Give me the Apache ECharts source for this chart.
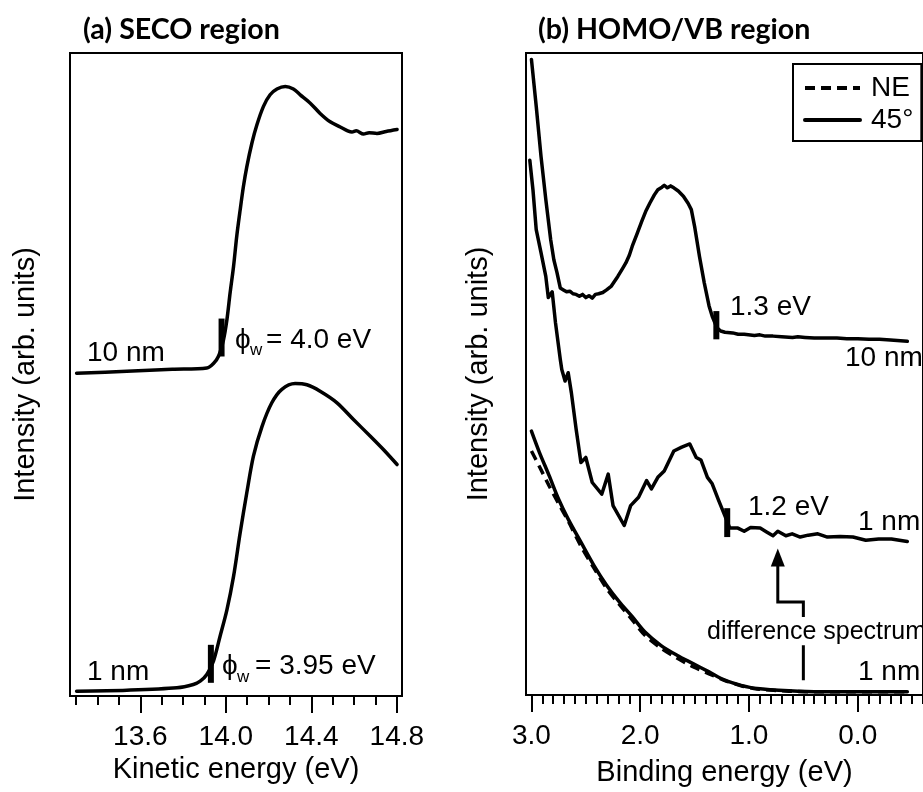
<!DOCTYPE html>
<html>
<head>
<meta charset="utf-8">
<script src="https://cdn.jsdelivr.net/npm/echarts@6/dist/echarts.min.js"></script>
<style>
  html, body { margin: 0; padding: 0; background: #fff; }
  #chart { width: 923px; height: 792px; }
</style>
</head>
<body>
<div id="chart"></div>
<script>
// ---- (a) SECO region: kinetic energy (eV) vs intensity (arb. units) ----
const seco10nm = [
  [13.302, 50.2], [13.537, 50.5], [13.75, 50.8], [13.911, 51.0], [13.942, 51.7],
  [13.965, 52.8], [13.989, 55.4], [14.005, 58.5], [14.020, 62.7], [14.036, 66.8],
  [14.051, 71.5], [14.067, 75.6], [14.082, 79.2], [14.098, 82.3], [14.122, 86.0],
  [14.145, 88.8], [14.176, 91.7], [14.207, 93.5], [14.239, 94.4], [14.278, 94.8],
  [14.316, 94.4], [14.348, 93.5], [14.395, 92.2], [14.441, 90.6], [14.488, 89.3],
  [14.535, 88.5], [14.57, 87.9], [14.59, 87.7], [14.61, 87.9], [14.644, 87.4],
  [14.67, 87.6], [14.707, 87.5], [14.75, 87.8], [14.801, 88.1]
];
const seco1nm = [
  [13.302, 0.75], [13.537, 0.9], [13.771, 1.27], [13.848, 1.79], [13.880, 2.3],
  [13.911, 3.34], [13.942, 5.41], [13.973, 9.29], [14.005, 13.4], [14.036, 18.6],
  [14.067, 25.4], [14.098, 31.6], [14.129, 37.3], [14.169, 41.9], [14.215, 45.6],
  [14.262, 47.7], [14.324, 48.6], [14.379, 48.4], [14.441, 47.4], [14.520, 45.6],
  [14.597, 43.0], [14.676, 40.4], [14.738, 38.3], [14.801, 36.0]
];
// work functions and the intensity span of each cutoff marker
const workFunctions = [4.0, 3.95];          // 10 nm, 1 nm
const cutoffSpans = [[52.8, 58.7], [2.05, 7.96]];
const keOffset = 9.98;                       // kinetic energy of cutoff = phi_w + offset
const keMajorTicks = [13.6, 14.0, 14.4, 14.8];

// ---- (b) HOMO/VB region: binding energy (eV) vs intensity (arb. units) ----
const vb10nm = [
  [3.000, 99.0], [2.956, 91.7], [2.912, 83.9], [2.868, 77.2], [2.823, 70.9], [2.794, 67.8],
  [2.765, 65.8], [2.735, 63.4], [2.706, 63.1], [2.677, 62.8], [2.647, 62.9], [2.618, 62.5],
  [2.589, 62.4], [2.559, 62.1], [2.530, 62.4], [2.500, 61.9], [2.471, 62.2], [2.441, 61.8],
  [2.412, 62.4], [2.382, 62.5], [2.344, 62.7], [2.309, 63.1], [2.265, 63.7], [2.206, 65.2],
  [2.160, 66.5], [2.132, 67.3], [2.100, 68.5], [2.073, 69.9], [2.030, 71.8], [1.985, 73.8],
  [1.950, 75.3], [1.912, 76.6], [1.870, 77.9], [1.838, 78.7], [1.800, 79.1], [1.779, 79.4],
  [1.750, 79.0], [1.720, 79.3], [1.691, 79.0], [1.650, 78.5], [1.603, 77.7], [1.560, 76.6],
  [1.530, 75.6], [1.500, 73.0], [1.455, 68.3], [1.411, 64.2], [1.367, 60.6], [1.338, 59.0],
  [1.294, 57.2], [1.260, 56.7], [1.221, 56.5], [1.15, 56.4], [1.10, 56.2], [1.044, 56.2],
  [0.95, 56.0], [0.90, 56.1], [0.85, 55.9], [0.779, 55.9], [0.70, 55.8], [0.60, 55.7],
  [0.55, 55.8], [0.485, 55.7], [0.40, 55.6], [0.30, 55.6], [0.191, 55.6], [0.10, 55.5],
  [0.0, 55.5], [-0.103, 55.4], [-0.20, 55.4], [-0.30, 55.3], [-0.456, 55.1]
];
const vb1nm = [
  [3.015, 83.3], [2.986, 78.7], [2.956, 72.5], [2.912, 68.9], [2.868, 65.2], [2.845, 61.9],
  [2.809, 62.8], [2.779, 58.0], [2.735, 52.3], [2.721, 50.7], [2.691, 48.9], [2.662, 50.2],
  [2.633, 47.1], [2.589, 41.4], [2.545, 36.2], [2.500, 37.0], [2.441, 33.1], [2.353, 31.3],
  [2.294, 34.4], [2.250, 29.5], [2.147, 26.4], [2.088, 29.5], [2.015, 30.8], [1.941, 33.4],
  [1.897, 32.1], [1.838, 33.9], [1.779, 34.9], [1.691, 38.0], [1.618, 38.6], [1.544, 39.1],
  [1.485, 37.0], [1.441, 36.6], [1.382, 33.9], [1.338, 32.9], [1.279, 30.3], [1.221, 27.9],
  [1.176, 26.0], [1.102, 26.0], [1.044, 25.5], [0.985, 26.1], [0.897, 26.0], [0.838, 25.4],
  [0.779, 24.8], [0.735, 25.5], [0.661, 24.8], [0.603, 25.1], [0.529, 24.6], [0.455, 24.9],
  [0.367, 25.1], [0.279, 24.6], [0.162, 24.7], [0.044, 24.6], [-0.074, 24.1], [-0.192, 24.3],
  [-0.310, 24.3], [-0.456, 23.9]
];
const diff45 = [
  [3.000, 41.1], [2.927, 37.8], [2.838, 34.2], [2.750, 30.5], [2.662, 27.4], [2.545, 23.8],
  [2.426, 20.2], [2.309, 17.1], [2.192, 14.5], [2.073, 12.2], [1.956, 9.8], [1.808, 7.7],
  [1.662, 6.2], [1.515, 4.9], [1.367, 3.6], [1.221, 2.3], [1.073, 1.5], [0.926, 1.0],
  [0.632, 0.65], [0.338, 0.5], [0.044, 0.5], [-0.456, 0.5]
];
const diffNE = [
  [3.000, 38.0], [2.927, 35.6], [2.838, 32.6], [2.750, 29.8], [2.662, 27.1], [2.545, 23.2],
  [2.426, 19.8], [2.309, 16.6], [2.192, 14.1], [2.073, 11.7], [1.956, 9.3], [1.808, 7.3],
  [1.662, 5.75], [1.515, 4.4], [1.367, 3.3], [1.221, 2.25], [1.073, 1.45], [0.926, 0.95],
  [0.632, 0.6], [0.338, 0.5], [0.044, 0.5], [-0.456, 0.5]
];
// valence band onsets and the intensity span of each onset marker
const vbOnsets = [1.3, 1.2];                 // 10 nm, 1 nm
const onsetSpans = [[55.4, 59.8], [24.6, 29.1]];
const beMajorTicks = [3.0, 2.0, 1.0, 0.0];
// pointer from the "difference spectrum" label to the 1 nm spectrum
const pointerPath = [[0.5, 12.15], [0.5, 14.5], [0.735, 14.5], [0.735, 20.5]];
const pointerTip = [[0.735, 21.4]];
const pointerTail = [[0.5, 7.74], [0.5, 2.3]];

const FONT = "'Liberation Sans', Arial, 'DejaVu Sans', sans-serif";
const INK = '#000';

function minorTicks(from, to) {
  const out = [];
  for (let k = Math.round(from * 10); k <= Math.round(to * 10); k++) out.push(k / 10);
  return out;
}

function curve(name, data, xi, yi, extra) {
  return Object.assign({
    name, type: 'line', data, xAxisIndex: xi, yAxisIndex: yi,
    symbol: 'none', silent: true,
    itemStyle: { color: INK },
    lineStyle: { color: INK, width: 3.5, join: 'round', cap: 'round' }
  }, extra || {});
}
function marker(name, x, span, xi, yi) {
  return {
    name, type: 'line', xAxisIndex: xi, yAxisIndex: yi, symbol: 'none', silent: true,
    data: [[x, span[0]], [x, span[1]]],
    itemStyle: { color: INK },
    lineStyle: { color: INK, width: 6, cap: 'butt' }
  };
}
function majorAxis(grid, min, max, ticks, inverse, name, nameGap) {
  return {
    gridIndex: grid, type: 'value', min, max, inverse, position: 'bottom',
    axisLine: { show: true, onZero: false, lineStyle: { color: INK, width: 2 } },
    axisTick: { show: true, customValues: ticks, length: 17, lineStyle: { color: INK, width: 2 } },
    axisLabel: { show: true, customValues: ticks, formatter: v => v.toFixed(1),
      fontSize: 28, fontFamily: FONT, color: INK, margin: 27 },
    splitLine: { show: false },
    name, nameLocation: 'middle', nameGap,
    nameTextStyle: { fontSize: 29, fontFamily: FONT, color: INK }
  };
}
function minorAxis(grid, min, max, ticks, inverse) {
  return {
    gridIndex: grid, type: 'value', min, max, inverse, position: 'bottom',
    axisLine: { show: false, onZero: false },
    axisTick: { show: true, customValues: ticks, length: 9, lineStyle: { color: INK, width: 2 } },
    axisLabel: { show: false }, splitLine: { show: false }
  };
}
function intensityAxis(grid, nameGap) {
  return {
    gridIndex: grid, type: 'value', min: 0, max: 100,
    axisLine: { show: false }, axisTick: { show: false }, axisLabel: { show: false },
    splitLine: { show: false },
    name: 'Intensity (arb. units)', nameLocation: 'middle', nameGap,
    nameTextStyle: { fontSize: 29, fontFamily: FONT, color: INK }
  };
}
function note(x, y, text, size) {
  return { type: 'text', x, y, silent: true,
    style: { text, fontSize: size || 28, fontFamily: FONT, fill: INK,
      align: 'left', verticalAlign: 'middle' } };
}

const chart = echarts.init(document.getElementById('chart'), null, { renderer: 'canvas' });

const titleStyle = { fontFamily: 'Lato, sans-serif', fontWeight: 'bold', fontSize: 28.6, color: INK };

chart.setOption({
  animation: false,
  backgroundColor: '#fff',
  title: [
    { text: '(a) SECO region', left: 83, top: 15, padding: 0, textStyle: titleStyle },
    { text: '(b) HOMO/VB region', left: 538, top: 15, padding: 0, textStyle: titleStyle }
  ],
  grid: [
    { left: 70, top: 53, width: 332, height: 643, show: true, borderColor: INK, borderWidth: 2,
      backgroundColor: 'transparent', containLabel: false },
    { left: 526, top: 53, width: 413.6, height: 644, show: true, borderColor: INK, borderWidth: 2,
      backgroundColor: 'transparent', containLabel: false }
  ],
  xAxis: [
    majorAxis(0, 13.271, 14.824, keMajorTicks, false, 'Kinetic energy (eV)', 59),
    minorAxis(0, 13.271, 14.824, minorTicks(13.3, 14.8), false),
    majorAxis(1, -0.6, 3.05, beMajorTicks, true, 'Binding energy (eV)', 63),
    minorAxis(1, -0.6, 3.05, minorTicks(-0.6, 3.0), true)
  ],
  yAxis: [intensityAxis(0, 30), intensityAxis(1, 33)],
  legend: {
    data: ['NE', '45°'], orient: 'vertical', left: 793, top: 64,
    padding: [10, 8, 7, 10], itemGap: 4, itemWidth: 55, itemHeight: 14,
    borderColor: INK, borderWidth: 2, backgroundColor: '#fff', selectedMode: false,
    itemStyle: { opacity: 0, borderWidth: 0 },
    lineStyle: { width: 4, color: INK },
    textStyle: { fontSize: 28, fontFamily: FONT, color: INK, lineHeight: 28, padding: [0, 0, 0, 6] }
  },
  series: [
    curve('10 nm SECO', seco10nm, 0, 0, { smooth: 0.3 }),
    curve('1 nm SECO', seco1nm, 0, 0, { smooth: 0.3 }),
    marker('10 nm cutoff', workFunctions[0] + keOffset, cutoffSpans[0], 0, 0),
    marker('1 nm cutoff', workFunctions[1] + keOffset, cutoffSpans[1], 0, 0),

    curve('10 nm VB', vb10nm, 2, 1),
    curve('1 nm VB', vb1nm, 2, 1),
    curve('NE', diffNE, 2, 1, { smooth: 0.3,
      lineStyle: { color: INK, width: 3.5, type: [10, 6] } }),
    curve('45°', diff45, 2, 1, { smooth: 0.3 }),
    marker('10 nm onset', vbOnsets[0], onsetSpans[0], 2, 1),
    marker('1 nm onset', vbOnsets[1], onsetSpans[1], 2, 1),
    curve('pointer', pointerPath, 2, 1, { lineStyle: { color: INK, width: 3, cap: 'butt', join: 'miter' } }),
    curve('pointer tail', pointerTail, 2, 1, { lineStyle: { color: INK, width: 3, cap: 'butt' } }),
    { name: 'pointer tip', type: 'scatter', xAxisIndex: 2, yAxisIndex: 1, silent: true,
      data: pointerTip, symbol: 'triangle', symbolSize: [14, 18],
      itemStyle: { color: INK, opacity: 1 } }
  ],
  graphic: [
    note(87, 353, '10 nm'),
    note(235, 340, 'ϕ'), note(250, 350, 'w', 17), note(266, 340, '= 4.0 eV'),
    note(87, 672, '1 nm'),
    note(222, 666, 'ϕ'), note(237, 677, 'w', 17), note(255, 666, '= 3.95 eV'),
    note(730, 307, '1.3 eV'),
    note(845, 358, '10 nm'),
    note(748, 507, '1.2 eV'),
    note(858, 522, '1 nm'),
    note(707, 632, 'difference spectrum', 25),
    note(858, 672, '1 nm')
  ]
});
</script>
</body>
</html>
